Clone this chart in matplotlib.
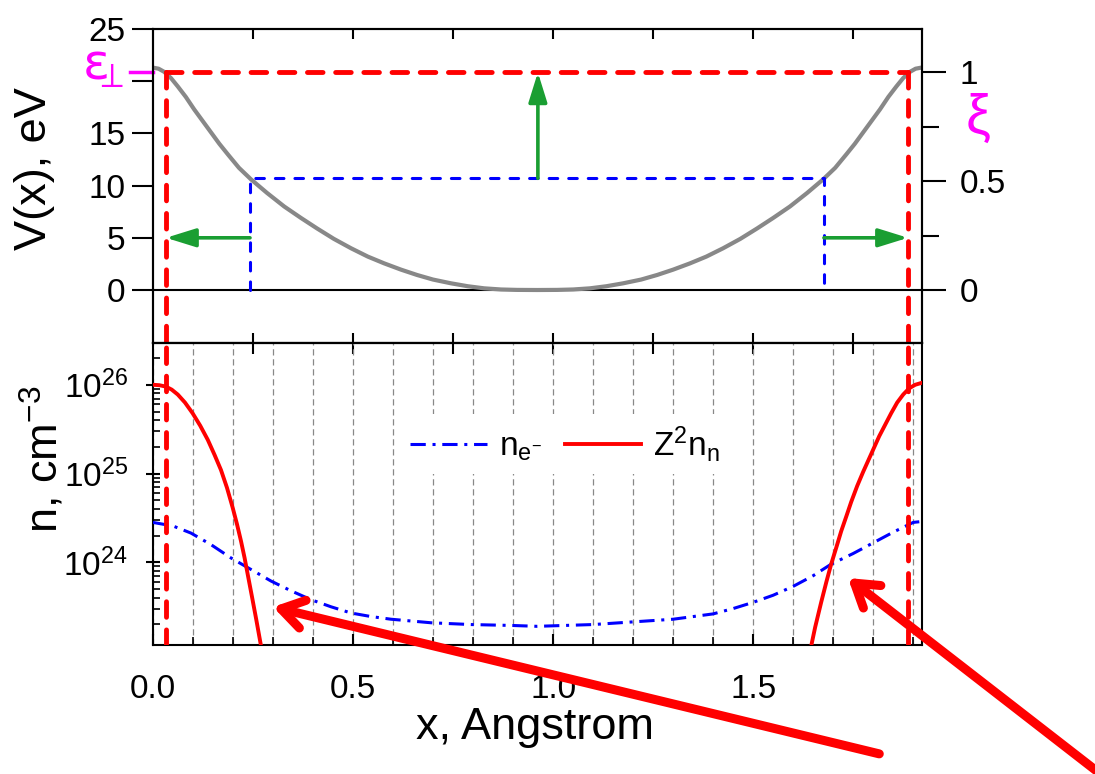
import matplotlib
matplotlib.use("Agg")
import matplotlib.pyplot as plt
import matplotlib.ticker as mticker
import matplotlib.transforms as mtrans
from matplotlib.patches import FancyArrowPatch
import numpy as np

plt.rcParams['font.family'] = ['Liberation Sans', 'DejaVu Sans']
plt.rcParams['mathtext.fontset'] = 'custom'
plt.rcParams['mathtext.rm'] = 'Liberation Sans'
plt.rcParams['mathtext.it'] = 'Liberation Sans:italic'

# potential across the channel, eV
x_pot = [0.0, 0.014, 0.028, 0.045, 0.062, 0.082, 0.103, 0.124, 0.145, 0.166,
         0.187, 0.215, 0.245, 0.285, 0.328, 0.37, 0.41, 0.452, 0.495, 0.537,
         0.578, 0.62, 0.66, 0.70, 0.745, 0.787, 0.828, 0.87, 0.91, 0.96,
         1.01, 1.05, 1.092, 1.133, 1.175, 1.22, 1.26, 1.30, 1.342, 1.383,
         1.425, 1.468, 1.51, 1.55, 1.592, 1.635, 1.675, 1.705, 1.733, 1.754,
         1.775, 1.796, 1.817, 1.838, 1.858, 1.875, 1.892, 1.906, 1.92]
v_pot = [21.3, 21.2, 20.9, 20.3, 19.5, 18.5, 17.3, 16.2, 15.1, 14.0,
         13.0, 11.7, 10.6, 9.3, 8.0, 6.9, 5.9, 4.9, 4.0, 3.2,
         2.55, 1.95, 1.44, 1.0, 0.64, 0.36, 0.16, 0.05, 0.01, 0.0,
         0.01, 0.05, 0.16, 0.36, 0.64, 1.0, 1.44, 1.95, 2.55, 3.2,
         4.0, 4.9, 5.9, 6.9, 8.0, 9.3, 10.6, 11.7, 13.0, 14.0,
         15.1, 16.2, 17.3, 18.5, 19.5, 20.3, 20.9, 21.2, 21.3]

# transverse energy level and turning points
eps_perp = 20.85
x_turn = [0.0325, 1.887]
# half level (xi = 0.5) box
v_half = 10.7
x_half = [0.2425, 1.677]
v_arrow = 5.0

# electron density, log10(cm^-3)
x_ne = [0.0, 0.05, 0.095, 0.145, 0.195, 0.245, 0.295, 0.345, 0.395, 0.445,
        0.495, 0.545, 0.595, 0.645, 0.695, 0.795, 0.895, 0.96, 1.03, 1.10,
        1.20, 1.30, 1.35, 1.40, 1.45, 1.50, 1.55, 1.60, 1.65, 1.695,
        1.75, 1.80, 1.85, 1.90, 1.92]
ne_log = [24.45, 24.41, 24.33, 24.20, 24.05, 23.92, 23.79, 23.68, 23.58, 23.50,
          23.43, 23.39, 23.36, 23.34, 23.32, 23.30, 23.29, 23.28, 23.29, 23.30,
          23.33, 23.36, 23.39, 23.42, 23.48, 23.55, 23.63, 23.73, 23.85, 23.98,
          24.10, 24.22, 24.34, 24.45, 24.46]

# Z^2 * nuclear density, log10(cm^-3), two branches near the atoms
x_nn_left = [0.0, 0.016, 0.032, 0.047, 0.062, 0.08, 0.099, 0.118, 0.137, 0.154,
             0.17, 0.185, 0.199, 0.21, 0.22, 0.229, 0.237, 0.248, 0.258, 0.268, 0.278]
nn_left_log = [26.0, 25.995, 25.98, 25.945, 25.89, 25.80, 25.68, 25.54, 25.38, 25.21,
               25.04, 24.84, 24.62, 24.43, 24.24, 24.05, 23.86, 23.60, 23.36, 23.11, 22.86]
x_nn_right = [1.640, 1.655, 1.67, 1.683, 1.695, 1.708, 1.72, 1.733, 1.745, 1.76,
              1.775, 1.788, 1.80, 1.815, 1.83, 1.845, 1.86, 1.875, 1.89, 1.905, 1.92]
nn_right_log = [22.95, 23.27, 23.55, 23.78, 23.98, 24.17, 24.35, 24.52, 24.68, 24.86,
                25.02, 25.15, 25.27, 25.42, 25.55, 25.68, 25.80, 25.89, 25.96, 26.0, 26.02]

RED = "#ff0000"
BLUE = "#0000ff"
GREEN = "#1a9e32"
MAG = "#ff00ff"
TS = 24
LS = 32.5

fig = plt.figure(figsize=(10.95, 7.74), dpi=100)
ax_top = fig.add_axes([0.1397, 0.5568, 0.7023, 0.4057])
ax_bot = fig.add_axes([0.1397, 0.1667, 0.7023, 0.3901])

xmax = 1.922

# ---- top panel
ax_top.plot(x_pot, v_pot, color="#888888", lw=3.0, zorder=2)
ax_top.axhline(0, color="black", lw=1.5, zorder=1)
red_dash = dict(color=RED, lw=3.5, dashes=(3.2, 2.6), dash_capstyle="round")
ax_top.plot(x_turn, [eps_perp, eps_perp], zorder=4, **red_dash)
for xt in x_turn:
    ax_top.plot([xt, xt], [eps_perp, -6], zorder=4, **red_dash)
ax_top.plot([x_half[0], x_half[0], x_half[1], x_half[1]], [0, v_half, v_half, 0],
            color=BLUE, lw=2.2, dashes=(2.8, 3.6), dash_capstyle="round", zorder=3)

green = dict(arrowstyle="-|>,head_length=0.45,head_width=0.14", color=GREEN, lw=2.6,
             mutation_scale=40, shrinkA=0, shrinkB=0)
ax_top.annotate("", xy=(0.962, eps_perp), xytext=(0.962, v_half), arrowprops=green)
ax_top.annotate("", xy=(x_turn[0], v_arrow), xytext=(x_half[0], v_arrow), arrowprops=green)
ax_top.annotate("", xy=(x_turn[1], v_arrow), xytext=(x_half[1], v_arrow), arrowprops=green)

ax_top.set_xlim(0, xmax)
ax_top.set_ylim(-5.08, 25)
ax_top.set_yticks([0, 5, 10, 15, 20, 25])
ax_top.set_yticklabels(["0", "5", "10", "15", "", "25"])
ax_top.set_xticks([0.25, 0.5, 0.75, 1.0, 1.25, 1.5, 1.75])
ax_top.tick_params(axis="y", direction="out", length=15, width=1.5, labelsize=TS, pad=5)
ax_top.tick_params(axis="x", direction="in", length=7, width=1.5, top=True,
                   labelbottom=False)
for s in ax_top.spines.values():
    s.set_linewidth(1.5)
ax_top.set_ylabel("V(x), eV", fontsize=LS)
ax_top.yaxis.set_label_coords(-0.127, 0.557)

blend = mtrans.blended_transform_factory(ax_top.transAxes, ax_top.transData)
ax_top.plot([-0.03, 0], [eps_perp, eps_perp], transform=blend, color=MAG, lw=2.5,
            clip_on=False)
ax_top.text(-0.038, 0.838, r"$\mathrm{ε}_{\!\!\!\perp}$", transform=ax_top.transAxes,
            color=MAG, fontsize=36, math_fontfamily="dejavusans",
            ha="right", va="baseline")
ax_top.text(1.073, 0.713, "ξ", transform=ax_top.transAxes, color=MAG,
            fontsize=40, ha="center", va="center")

ax_r = ax_top.twinx()
ax_r.set_ylim(-5.08 / eps_perp, 25 / eps_perp)
ax_r.set_yticks([0, 0.5, 1])
ax_r.set_yticklabels(["0", "0.5", "1"])
ax_r.set_yticks([0.25, 0.75], minor=True)
ax_r.tick_params(axis="y", which="major", direction="out", length=17, width=1.5,
                 labelsize=TS, pad=10)
ax_r.tick_params(axis="y", which="minor", direction="out", length=12, width=1.5)
for s in ax_r.spines.values():
    s.set_linewidth(1.5)

# ---- bottom panel
ax_bot.grid(True, axis="x", which="both", color="#888888", lw=0.9,
            linestyle=(0, (5, 3)))
ln_e, = ax_bot.plot(x_ne, np.power(10.0, ne_log), color=BLUE, lw=2.2,
                    dashes=(5, 2.2, 1, 2.2), label=r"$\mathregular{n_{e^{-}}}$", zorder=3)
ln_n, = ax_bot.plot(x_nn_left, np.power(10.0, nn_left_log), color=RED, lw=2.8,
                    label=r"$\mathregular{Z^2n_n}$", zorder=3)
ax_bot.plot(x_nn_right, np.power(10.0, nn_right_log), color=RED, lw=2.8, zorder=3)
for xt in x_turn:
    ax_bot.axvline(xt, zorder=4, **red_dash)

ax_bot.set_yscale("log")
ax_bot.set_xlim(0, xmax)
ax_bot.set_ylim(10 ** 23.07, 10 ** 26.47)
ax_bot.xaxis.set_major_locator(mticker.FixedLocator([0, 0.5, 1.0, 1.5]))
ax_bot.xaxis.set_major_formatter(mticker.FixedFormatter(["0.0", "0.5", "1.0", "1.5"]))
ax_bot.xaxis.set_minor_locator(mticker.MultipleLocator(0.1))
ax_bot.yaxis.set_major_locator(mticker.LogLocator(base=10))
ax_bot.yaxis.set_minor_locator(mticker.LogLocator(base=10, subs=range(2, 10)))
ax_bot.yaxis.set_minor_formatter(mticker.NullFormatter())
ax_bot.tick_params(axis="x", which="major", direction="in", length=8, width=1.5,
                   labelsize=TS, pad=21)
ax_bot.tick_params(axis="x", which="minor", direction="in", length=6, width=1.2)
ax_bot.tick_params(axis="y", which="major", direction="inout", length=10, width=1.5,
                   labelsize=TS, pad=13)
ax_bot.tick_params(axis="y", which="minor", direction="in", length=5, width=1.2)
for s in ax_bot.spines.values():
    s.set_linewidth(1.5)
sec = ax_bot.secondary_xaxis("top")
sec.set_xticks([0.25, 0.5, 0.75, 1.0, 1.25, 1.5, 1.75])
sec.tick_params(direction="in", length=8, width=1.5, labeltop=False)
sec.spines["top"].set_linewidth(1.5)

ax_bot.set_ylabel(r"n, cm$^{\mathregular{-3}}$", fontsize=LS)
ax_bot.yaxis.set_label_coords(-0.112, 0.616)
ax_bot.set_xlabel("x, Angstrom", fontsize=LS)
ax_bot.xaxis.set_label_coords(0.497, -0.205)

leg = ax_bot.legend(handles=[ln_e, ln_n], loc="center", bbox_to_anchor=(0.536, 0.666),
                    ncol=2, fontsize=TS, frameon=True, fancybox=False,
                    facecolor="white", edgecolor="none", framealpha=1,
                    handlelength=2.3, handletextpad=0.35, columnspacing=0.7,
                    borderpad=0.3)
leg.set_zorder(5)

# ---- big red pointer arrows
for tail, tip in [((0.803, 0.026), (0.2493, 0.2158)), ((1.005, 0.0), (0.7744, 0.2532))]:
    fig.add_artist(FancyArrowPatch(tail, tip, transform=fig.transFigure,
                                   arrowstyle="->,head_length=0.5,head_width=0.32",
                                   mutation_scale=32, color=RED, lw=6.5,
                                   shrinkA=0, shrinkB=0, capstyle="round"))

fig.savefig("out.png", dpi=100)
